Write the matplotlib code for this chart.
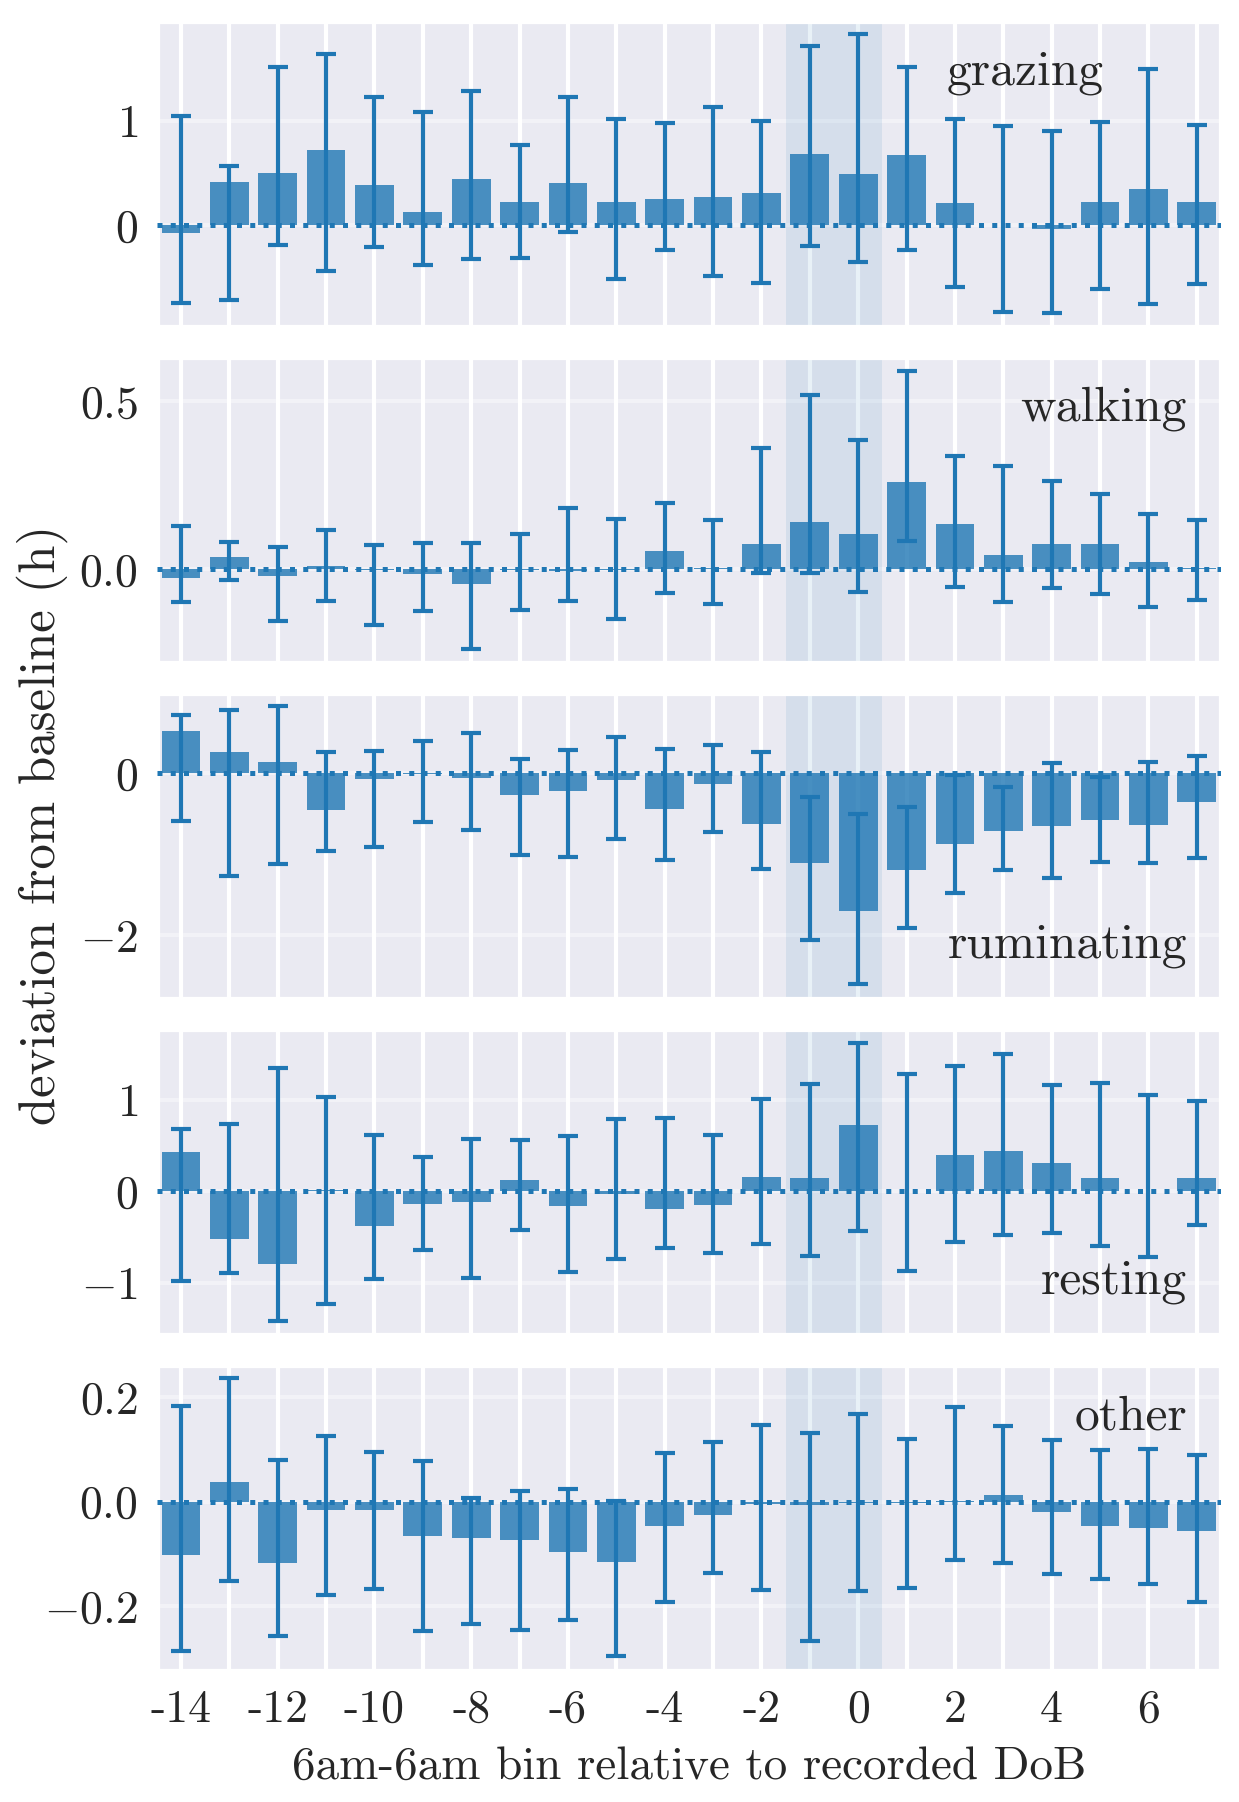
import numpy as np
import matplotlib
matplotlib.use("Agg")
import matplotlib.pyplot as plt
import seaborn as sns

sns.set_theme(style="darkgrid")
plt.rcParams["font.family"] = "cmr10"
plt.rcParams["mathtext.fontset"] = "cm"
plt.rcParams["axes.formatter.use_mathtext"] = True
plt.rcParams["font.size"] = 11

# bins relative to recorded DoB
days = list(range(-14, 8))

# mean deviation and CI (low, high) per behaviour, hours
grazing_mean = [-0.08, 0.41, 0.50, 0.72, 0.38, 0.13, 0.44, 0.22, 0.40, 0.22, 0.25,
                0.27, 0.31, 0.68, 0.49, 0.67, 0.21, 0.005, -0.04, 0.22, 0.35, 0.22]
grazing_lo = [-0.75, -0.72, -0.19, -0.44, -0.21, -0.38, -0.33, -0.32, -0.07, -0.52, -0.24,
              -0.49, -0.56, -0.20, -0.35, -0.24, -0.59, -0.83, -0.84, -0.61, -0.76, -0.57]
grazing_hi = [1.05, 0.57, 1.52, 1.64, 1.23, 1.08, 1.29, 0.77, 1.23, 1.02, 0.98,
              1.13, 1.00, 1.72, 1.83, 1.52, 1.02, 0.95, 0.90, 0.99, 1.50, 0.96]

walking_mean = [-0.026, 0.036, -0.018, 0.011, -0.002, -0.013, -0.043, -0.002, -0.004, -0.003, 0.054,
                0.004, 0.076, 0.142, 0.104, 0.259, 0.136, 0.044, 0.076, 0.076, 0.022, 0.004]
walking_lo = [-0.097, -0.030, -0.152, -0.094, -0.166, -0.122, -0.235, -0.120, -0.093, -0.146, -0.071,
              -0.104, -0.011, -0.011, -0.066, 0.084, -0.051, -0.096, -0.056, -0.073, -0.113, -0.092]
walking_hi = [0.129, 0.083, 0.067, 0.118, 0.073, 0.078, 0.079, 0.106, 0.184, 0.151, 0.197,
              0.148, 0.362, 0.519, 0.384, 0.590, 0.337, 0.306, 0.264, 0.224, 0.165, 0.147]

ruminating_mean = [0.52, 0.26, 0.14, -0.45, -0.07, -0.01, -0.06, -0.27, -0.22, -0.09, -0.44,
                   -0.14, -0.63, -1.11, -1.70, -1.20, -0.88, -0.72, -0.65, -0.58, -0.64, -0.36]
ruminating_lo = [-0.59, -1.27, -1.12, -0.96, -0.91, -0.60, -0.70, -1.01, -1.04, -0.81, -1.07,
                 -0.73, -1.18, -2.06, -2.60, -1.91, -1.48, -1.20, -1.29, -1.10, -1.11, -1.05]
ruminating_hi = [0.71, 0.78, 0.82, 0.26, 0.27, 0.40, 0.49, 0.17, 0.28, 0.44, 0.29,
                 0.34, 0.26, -0.30, -0.51, -0.42, -0.02, -0.17, 0.12, -0.05, 0.13, 0.21]

resting_mean = [0.43, -0.52, -0.79, 0.01, -0.38, -0.14, -0.12, 0.12, -0.16, -0.03, -0.19,
                -0.15, 0.16, 0.15, 0.72, 0.007, 0.40, 0.44, 0.31, 0.15, 0.0, 0.14]
resting_lo = [-0.98, -0.89, -1.42, -1.23, -0.96, -0.64, -0.95, -0.42, -0.88, -0.74, -0.62,
              -0.67, -0.57, -0.71, -0.43, -0.87, -0.55, -0.48, -0.45, -0.60, -0.72, -0.37]
resting_hi = [0.68, 0.73, 1.35, 1.03, 0.62, 0.37, 0.57, 0.56, 0.60, 0.79, 0.80,
              0.61, 1.01, 1.17, 1.62, 1.28, 1.37, 1.50, 1.16, 1.18, 1.05, 0.99]

other_mean = [-0.102, 0.037, -0.118, -0.015, -0.015, -0.066, -0.070, -0.074, -0.096, -0.115, -0.046,
              -0.026, -0.004, -0.007, -0.002, -0.002, 0.001, 0.013, -0.020, -0.047, -0.050, -0.056]
other_lo = [-0.286, -0.153, -0.257, -0.178, -0.168, -0.248, -0.235, -0.246, -0.227, -0.296, -0.193,
            -0.137, -0.170, -0.268, -0.172, -0.165, -0.112, -0.117, -0.139, -0.149, -0.158, -0.193]
other_hi = [0.183, 0.237, 0.081, 0.127, 0.096, 0.079, 0.008, 0.021, 0.024, 0.002, 0.094,
            0.114, 0.147, 0.132, 0.169, 0.121, 0.182, 0.146, 0.118, 0.100, 0.102, 0.089]

behaviours = ["grazing", "walking", "ruminating", "resting", "other"]
means = [grazing_mean, walking_mean, ruminating_mean, resting_mean, other_mean]
lows = [grazing_lo, walking_lo, ruminating_lo, resting_lo, other_lo]
highs = [grazing_hi, walking_hi, ruminating_hi, resting_hi, other_hi]
yticks = [[0, 1], [0, 0.5], [-2, 0], [-1, 0, 1], [-0.2, 0, 0.2]]
ylims = [(-0.975, 1.96), (-0.277, 0.632), (-2.78, 0.99), (-1.564, 1.775), (-0.324, 0.263)]
label_pos = [(0.89, 0.792), (0.968, 0.79), (0.968, 0.134), (0.968, 0.133), (0.968, 0.788)]

fig, axes = plt.subplots(5, 1, figsize=(1239 / 300, 1802 / 300), dpi=300, sharex=True)
fig.subplots_adjust(left=0.1265, right=0.9855, top=0.9885, bottom=0.0729, hspace=0.098)

x = np.arange(len(days))
for i, ax in enumerate(axes):
    m = np.array(means[i])
    lo = np.array(lows[i])
    hi = np.array(highs[i])
    ax.axvspan(12.5, 14.5, color="tab:blue", alpha=0.1, lw=0, zorder=1)
    ax.bar(x, m, width=0.8, color="tab:blue", alpha=0.8, linewidth=0, zorder=2)
    ax.errorbar(x, m, yerr=[m - lo, hi - m], fmt="none", ecolor="tab:blue",
                elinewidth=1, capsize=2.4, capthick=1, zorder=3)
    ax.axhline(0, color="tab:blue", ls=":", lw=1.2, zorder=4)
    ax.set_ylim(*ylims[i])
    ax.set_yticks(yticks[i])
    ax.set_xlim(-0.5, len(days) - 0.5)
    ax.grid(axis="y", alpha=0.4)
    ax.tick_params(axis="y", length=0, pad=4.5, labelsize=11)
    ax.tick_params(axis="x", length=0, pad=4.4, labelsize=11)
    ax.text(label_pos[i][0], label_pos[i][1], behaviours[i], transform=ax.transAxes,
            ha="right", va="baseline", fontsize=11.9)

axes[-1].set_xticks(x)
axes[-1].set_xticklabels([str(d) if d % 2 == 0 else "" for d in days])

fig.text(0.034, 0.542, "deviation from baseline (h)", rotation=90, ha="center", va="center", fontsize=12.2)
fig.text(0.556, 0.0196, "6am-6am bin relative to recorded DoB", ha="center", va="center", fontsize=11.3)

fig.savefig("out.png", dpi=300)
